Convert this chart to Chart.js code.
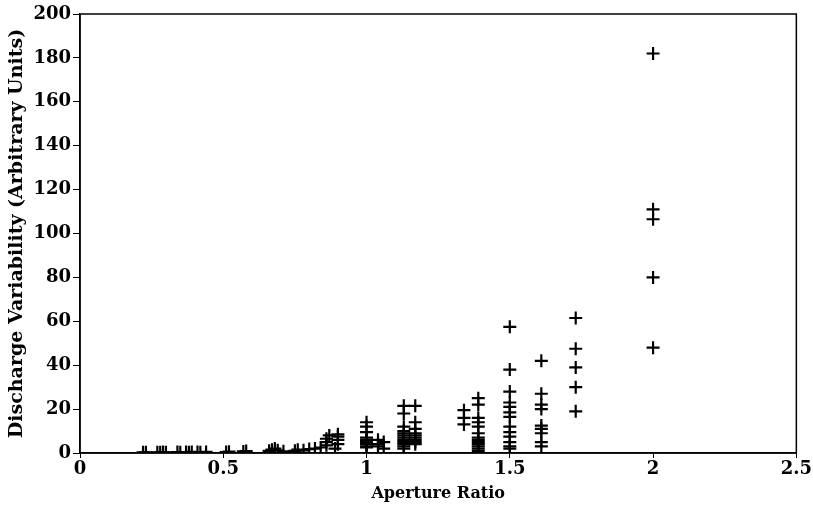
<!DOCTYPE html>
<html lang="en">
<head>
    <meta charset="UTF-8">
    <title>Discharge Variability vs Aperture Ratio</title>
    <script src="https://cdn.jsdelivr.net/npm/chart.js@4.4.0/dist/chart.umd.min.js"></script>
    <style>
        html, body { margin: 0; padding: 0; background: #fff; }
        #wrap { width: 813px; height: 511px; }
    </style>
</head>
<body>
<div id="wrap"><canvas id="scatter"></canvas></div>
<script>
    // aperture ratio (x) and discharge variability (y)
    const apertureRatio = [
        0.22, 0.23, 0.27, 0.28, 0.29, 0.30, 0.34, 0.35, 0.37, 0.38, 0.39, 0.41, 0.42, 0.44,
        0.51, 0.52, 0.57, 0.58,
        0.66, 0.67, 0.68, 0.69, 0.71,
        0.75, 0.76, 0.78, 0.80, 0.82,
        0.84, 0.86, 0.86, 0.86, 0.87, 0.89, 0.90, 0.90, 0.90, 0.90,
        1.0, 1.0, 1.0, 1.0, 1.0, 1.0, 1.0, 1.0, 1.0, 1.0, 1.0,
        1.04, 1.04, 1.04, 1.06, 1.06,
        1.13, 1.13, 1.13, 1.13, 1.13, 1.13, 1.13, 1.13, 1.13, 1.13, 1.13, 1.13,
        1.17, 1.17, 1.17, 1.17, 1.17, 1.17, 1.17, 1.17, 1.17,
        1.34, 1.34, 1.34,
        1.39, 1.39, 1.39, 1.39, 1.39, 1.39, 1.39, 1.39, 1.39, 1.39, 1.39, 1.39, 1.39,
        1.5, 1.5, 1.5, 1.5, 1.5, 1.5, 1.5, 1.5, 1.5, 1.5, 1.5, 1.5, 1.5,
        1.61, 1.61, 1.61, 1.61, 1.61, 1.61, 1.61, 1.61, 1.61,
        1.73, 1.73, 1.73, 1.73, 1.73,
        2.0, 2.0, 2.0, 2.0, 2.0
    ];
    const dischargeVar = [
        0.3, 0.3, 0.3, 0.3, 0.4, 0.3, 0.4, 0.3, 0.4, 0.3, 0.5, 0.4, 0.3, 0.5,
        0.4, 0.6, 0.7, 0.9,
        1.0, 1.5, 2.0, 1.2, 0.8,
        1.0, 1.5, 1.2, 1.8, 2.0,
        2.5, 3.5, 5, 6.5, 8, 2, 4, 6, 7.5, 8.5,
        14, 12, 9.5, 7, 6, 5.5, 5, 4.5, 4, 3, 2.5,
        6, 4, 3, 5, 2,
        21.5, 18, 12, 10, 9, 8, 7, 6, 5, 4, 3, 2,
        21.5, 14, 11, 9, 8, 7, 6, 5, 4,
        19.5, 16, 13,
        25, 22, 16, 14, 12, 9, 7, 6, 5, 4, 3, 2, 1,
        57.5, 38, 28, 23, 21, 18.5, 16.5, 12, 9.5, 7.5, 5, 3, 2,
        42, 27, 22, 20, 12.5, 11, 9, 5, 3,
        61.5, 47.5, 39, 30, 19,
        182, 111, 106.5, 80, 48
    ];
    const xTickLabels = ['0', '0.5', '1', '1.5', '2', '2.5'];

    const points = apertureRatio.map((x, i) => ({ x: x, y: dischargeVar[i] }));

    const family = "'DejaVu Serif', serif";
    const tickFont = { family: family, size: 18, weight: 'bold' };

    // box around the plot area (top and right edges)
    const frame = {
        id: 'frame',
        afterDraw(chart) {
            const a = chart.chartArea, ctx = chart.ctx;
            ctx.save();
            ctx.strokeStyle = '#000';
            ctx.lineWidth = 1.5;
            ctx.strokeRect(a.left, a.top, a.right - a.left, a.bottom - a.top);
            ctx.restore();
        }
    };

    new Chart(document.getElementById('scatter'), {
        type: 'scatter',
        data: {
            datasets: [{
                data: points,
                pointStyle: 'cross',
                pointRadius: 6.5,
                pointBorderWidth: 2.2,
                borderColor: '#000',
                backgroundColor: '#000'
            }]
        },
        options: {
            responsive: true,
            maintainAspectRatio: false,
            animation: false,
            layout: { padding: { top: 14, right: 16, left: 6, bottom: 0 } },
            plugins: { legend: { display: false }, tooltip: { enabled: false } },
            scales: {
                x: {
                    min: 0, max: 2.5,
                    ticks: {
                        stepSize: 0.5, color: '#000', font: tickFont, padding: 1, maxRotation: 0,
                        callback: (v, i) => xTickLabels[i]
                    },
                    grid: { drawOnChartArea: false, tickLength: 5, color: '#000' },
                    border: { color: '#000', width: 1.5 },
                    title: { display: true, text: 'Aperture Ratio', color: '#000', font: { family: family, size: 16, weight: 'bold' }, padding: { top: 0, bottom: 8 } },
                    afterFit(scale) { scale.height = 58; }
                },
                y: {
                    min: 0, max: 200,
                    ticks: { stepSize: 20, color: '#000', font: tickFont, padding: 2 },
                    grid: { drawOnChartArea: false, tickLength: 7, color: '#000' },
                    border: { color: '#000', width: 1.5 },
                    title: { display: true, text: 'Discharge Variability (Arbitrary Units)', color: '#000', font: { family: family, size: 19, weight: 'bold' }, padding: { top: 0, bottom: 2 } },
                    afterFit(scale) { scale.width = 74; }
                }
            }
        },
        plugins: [frame]
    });
</script>
</body>
</html>
